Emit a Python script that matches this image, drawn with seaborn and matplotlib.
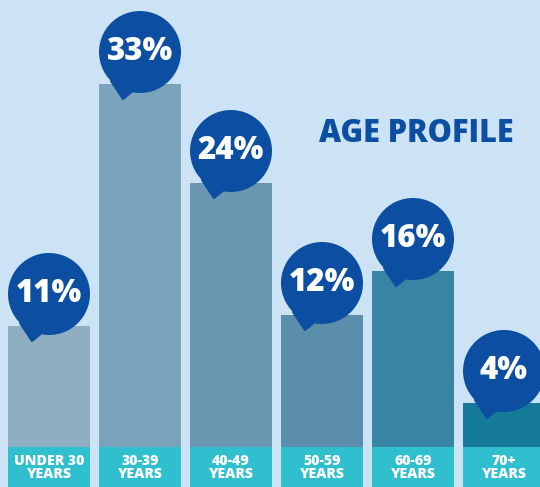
import matplotlib
matplotlib.use('Agg')
import matplotlib.pyplot as plt
import seaborn as sns
import pandas as pd
import numpy as np
from matplotlib.patches import Ellipse, Polygon

# data
age_groups = ["UNDER 30\nYEARS", "30-39\nYEARS", "40-49\nYEARS", "50-59\nYEARS", "60-69\nYEARS", "70+\nYEARS"]
shares = [11, 33, 24, 12, 16, 4]
bar_colors = ["#8FAEC1", "#7BA3BC", "#6A98B2", "#5A8EAA", "#3984A3", "#167B98"]

BG = "#CBE3F5"
BUBBLE = "#0B4EA2"
BAND = "#2FBFCF"

W, H = 540, 487
fig = plt.figure(figsize=(W / 100, H / 100), dpi=100)
fig.patch.set_facecolor(BG)
ax = fig.add_axes([0, 0, 1, 1])
ax.set_facecolor(BG)

df = pd.DataFrame({"group": age_groups, "share": shares})
sns.barplot(data=df, x="group", y="share", hue="group", palette=bar_colors,
            width=0.9, legend=False, ax=ax, saturation=1, zorder=2)

# layout in pixels: 91 px per bar slot, 11 px per percent, 40 px label band
xlim = (-49 / 91, (W - 49) / 91)
ylim = (-40 / 11, (H - 40) / 11)
ax.set_xlim(*xlim)
ax.set_ylim(*ylim)
sx = (xlim[1] - xlim[0]) / W
sy = (ylim[1] - ylim[0]) / H

x = np.arange(len(shares))
band_h = -ylim[0]
ax.bar(x, band_h, bottom=-band_h, width=0.9, color=BAND, zorder=2)

for xi, label in zip(x, age_groups):
    ax.text(xi, -band_h / 2 - 0.05, label, ha="center", va="center",
            color="white", fontsize=10.2, fontweight="heavy", family="Open Sans",
            linespacing=0.88, zorder=5)

# speech bubbles
r = 41
for xi, v in zip(x, shares):
    cx, cy = xi, v + 32 * sy
    ax.add_patch(Ellipse((cx, cy), 2 * r * sx, 2 * r * sy, color=BUBBLE, zorder=3, lw=0))
    a1, a2 = np.radians(-135), np.radians(-102)
    tail = [(cx, cy),
            (cx + r * np.cos(a1) * sx, cy + r * np.sin(a1) * sy),
            (cx - 17 * sx, cy - 47 * sy),
            (cx + r * np.cos(a2) * sx, cy + r * np.sin(a2) * sy)]
    ax.add_patch(Polygon(tail, closed=True, facecolor=BUBBLE, edgecolor=BUBBLE,
                         lw=1.5, joinstyle="round", zorder=3))
    ax.text(cx, cy, f"{v}%", ha="center", va="center", color="white",
            fontsize=22.5, fontweight="heavy", family="Open Sans", zorder=4)

fig.text(319 / W, 1 - 142 / H, "AGE PROFILE", ha="left", va="baseline",
         color=BUBBLE, fontsize=22, fontweight="heavy", family="Open Sans")

ax.axis("off")
fig.savefig("out.png", dpi=100, facecolor=BG)
